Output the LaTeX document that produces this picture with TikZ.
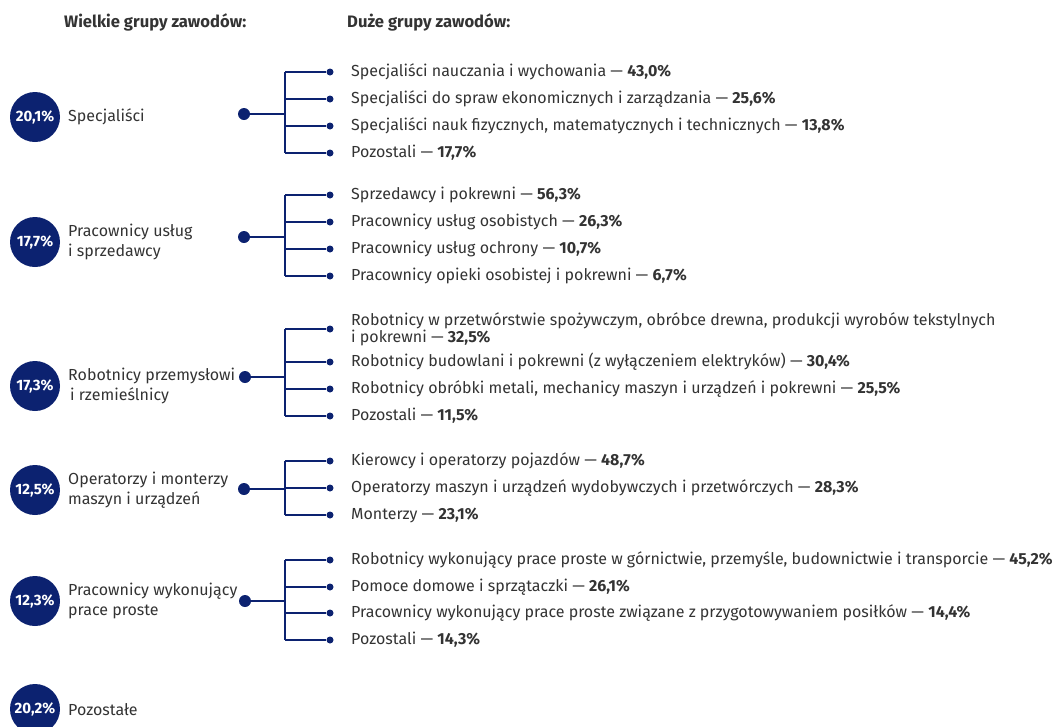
\documentclass[tikz,border=0pt]{standalone}
\usepackage{fontspec}
\setmainfont{Fira Sans}
\definecolor{navy}{RGB}{12,34,112}
\definecolor{txt}{RGB}{51,51,51}
\begin{document}
\begin{tikzpicture}[x=1pt,y=-1pt,
  pct/.style={circle,fill=navy,minimum size=50pt,inner sep=0pt,text=white,font=\fontsize{15}{16}\selectfont\bfseries},
  glabel/.style={anchor=west,align=left,text=txt,inner sep=0pt,font=\fontsize{16}{19.5}\selectfont},
  ctext/.style={anchor=west,align=left,text=txt,inner sep=0pt,font=\fontsize{16}{17}\selectfont},
  head/.style={anchor=west,text=txt,inner sep=0pt,font=\fontsize{16.6}{18}\selectfont\bfseries},
  bigdot/.style={circle,fill=navy,minimum size=12pt,inner sep=0pt},
  smalldot/.style={circle,fill=navy,minimum size=7pt,inner sep=0pt},
  conn/.style={draw=navy,line width=1.6pt}]
\useasboundingbox (0,0) rectangle (1054,726);
\begin{scope}
\clip (0,0) rectangle (1054,726);
% headers
\node[head] (h1) at (64,22) {Wielkie grupy zawodów:};
\node[head] (h2) at (347,22) {Duże grupy zawodów:};

% group circles and labels
\node[pct] (c1) at (35,117) {20,1\%};
\node[glabel] (l1) at (68,117) {Specjaliści};
\node[pct] (c2) at (35,242) {17,7\%};
\node[glabel] (l2) at (68,242) {Pracownicy usług\\i sprzedawcy};
\node[pct] (c3) at (35,386) {17,3\%};
\node[glabel] (l3) at (68,386) {Robotnicy przemysłowi\\\hspace{2pt}i rzemieślnicy};
\node[pct] (c4) at (35,490) {12,5\%};
\node[glabel] (l4) at (68,490) {Operatorzy i monterzy\\maszyn i urządzeń};
\node[pct] (c5) at (35,601) {12,3\%};
\node[glabel] (l5) at (68,601) {Pracownicy wykonujący\\prace proste};
\node[pct] (c6) at (35,709) {20,2\%};
\node[glabel] (l6) at (68,710) {Pozostałe};

% ---- group 1
\node[bigdot] (d1) at (244,114) {};
\coordinate (j1) at (285,114);
\coordinate (v1t) at (285,72);
\coordinate (v1b) at (285,153);
\draw[conn] (d1) -- (j1);
\draw[conn] (v1t) -- (v1b);
\foreach \n/\y/\t in {a/72/{Specjaliści nauczania i wychowania — \textbf{43,0\%}},
                      b/99/{Specjaliści do spraw ekonomicznych i zarządzania — \textbf{25,6\%}},
                      c/126/{Specjaliści nauk fizycznych, matematycznych i technicznych — \textbf{13,8\%}},
                      d/153/{Pozostali — \textbf{17,7\%}}}{
  \coordinate (k1\n) at (285,\y);
  \node[smalldot] (s1\n) at (330,\y) {};
  \draw[conn] (k1\n) -- (s1\n);
  \node[ctext] (t1\n) at (351,\y) {\t};
}

% ---- group 2
\node[bigdot] (d2) at (244,237) {};
\coordinate (j2) at (285,237);
\coordinate (v2t) at (285,195);
\coordinate (v2b) at (285,276);
\draw[conn] (d2) -- (j2);
\draw[conn] (v2t) -- (v2b);
\foreach \n/\y/\t in {a/195/{Sprzedawcy i pokrewni — \textbf{56,3\%}},
                      b/222/{Pracownicy usług osobistych — \textbf{26,3\%}},
                      c/249/{Pracownicy usług ochrony — \textbf{10,7\%}},
                      d/276/{Pracownicy opieki osobistej i pokrewni — \textbf{6,7\%}}}{
  \coordinate (k2\n) at (285,\y);
  \node[smalldot] (s2\n) at (330,\y) {};
  \draw[conn] (k2\n) -- (s2\n);
  \node[ctext] (t2\n) at (351,\y) {\t};
}

% ---- group 3
\node[bigdot] (d3) at (245,377) {};
\coordinate (j3) at (285,377);
\coordinate (v3t) at (285,329);
\coordinate (v3b) at (285,416);
\draw[conn] (d3) -- (j3);
\draw[conn] (v3t) -- (v3b);
\foreach \n/\y/\t in {a/329/{Robotnicy w przetwórstwie spożywczym, obróbce drewna, produkcji wyrobów tekstylnych\\i pokrewni — \textbf{32,5\%}},
                      b/362/{Robotnicy budowlani i pokrewni (z wyłączeniem elektryków) — \textbf{30,4\%}},
                      c/389/{Robotnicy obróbki metali, mechanicy maszyn i urządzeń i pokrewni — \textbf{25,5\%}},
                      d/416/{Pozostali — \textbf{11,5\%}}}{
  \coordinate (k3\n) at (285,\y);
  \node[smalldot] (s3\n) at (330,\y) {};
  \draw[conn] (k3\n) -- (s3\n);
  \node[ctext] (t3\n) at (351,\y) {\t};
}

% ---- group 4
\node[bigdot] (d4) at (244,489) {};
\coordinate (j4) at (285,489);
\coordinate (v4t) at (285,461);
\coordinate (v4b) at (285,515);
\draw[conn] (d4) -- (j4);
\draw[conn] (v4t) -- (v4b);
\foreach \n/\y/\t in {a/461/{Kierowcy i operatorzy pojazdów — \textbf{48,7\%}},
                      b/488/{Operatorzy maszyn i urządzeń wydobywczych i przetwórczych — \textbf{28,3\%}},
                      c/515/{Monterzy — \textbf{23,1\%}}}{
  \coordinate (k4\n) at (285,\y);
  \node[smalldot] (s4\n) at (330,\y) {};
  \draw[conn] (k4\n) -- (s4\n);
  \node[ctext] (t4\n) at (351,\y) {\t};
}

% ---- group 5
\node[bigdot] (d5) at (245,601) {};
\coordinate (j5) at (285,601);
\coordinate (v5t) at (285,560);
\coordinate (v5b) at (285,640);
\draw[conn] (d5) -- (j5);
\draw[conn] (v5t) -- (v5b);
\foreach \n/\y/\t in {a/560/{Robotnicy wykonujący prace proste w górnictwie, przemyśle, budownictwie i transporcie — \textbf{45,2\%}},
                      b/587/{Pomoce domowe i sprzątaczki — \textbf{26,1\%}},
                      c/613/{Pracownicy wykonujący prace proste związane z przygotowywaniem posiłków — \textbf{14,4\%}},
                      d/640/{Pozostali — \textbf{14,3\%}}}{
  \coordinate (k5\n) at (285,\y);
  \node[smalldot] (s5\n) at (330,\y) {};
  \draw[conn] (k5\n) -- (s5\n);
  \node[ctext] (t5\n) at (351,\y) {\t};
}
\end{scope}
\end{tikzpicture}
\end{document}
